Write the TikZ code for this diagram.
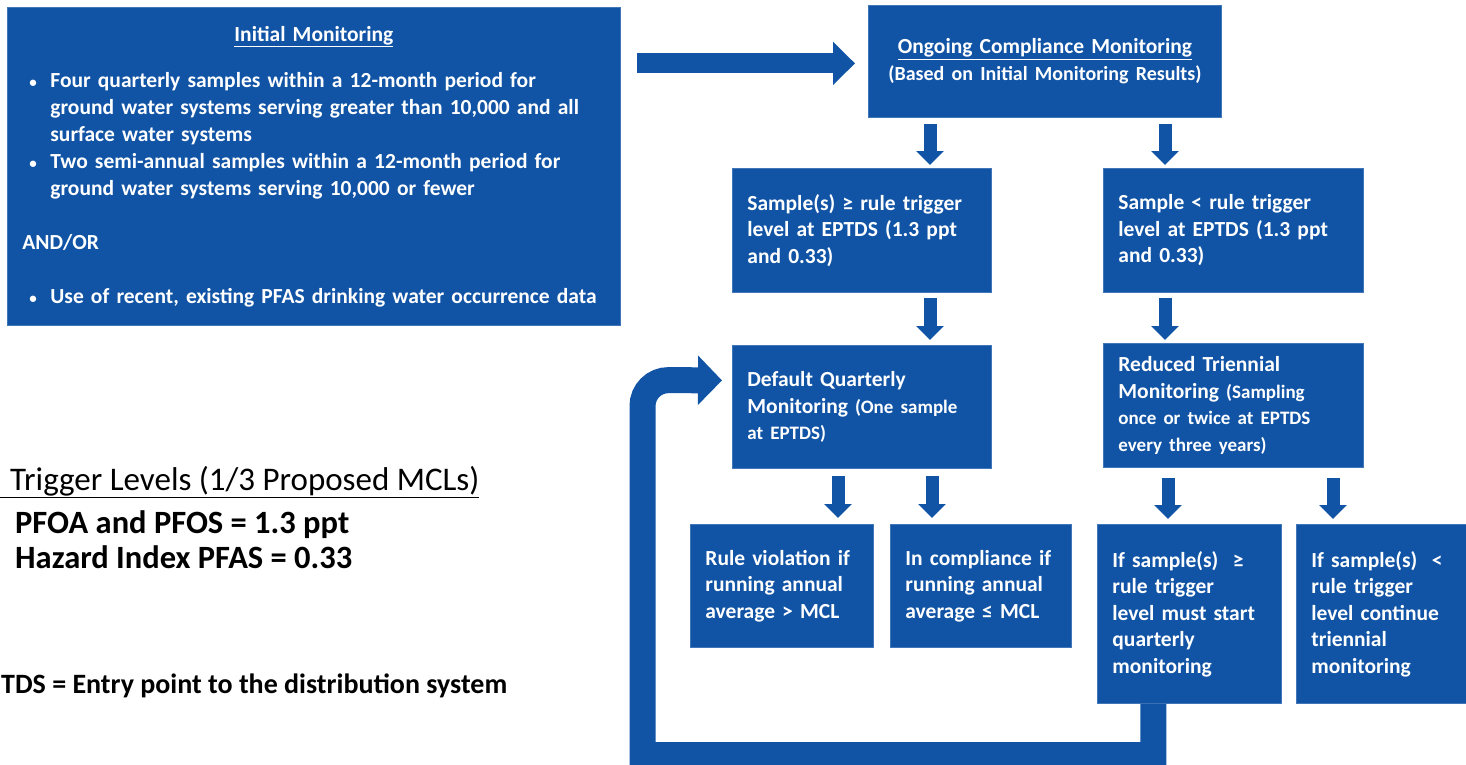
\documentclass[tikz,border=0pt]{standalone}
\usepackage{fontspec}
\setmainfont{Carlito}
\usetikzlibrary{arrows.meta,calc}

\definecolor{pblue}{RGB}{17,84,166}
\newcommand{\ibul}{\makebox[28pt][l]{\hspace{7pt}{\fontsize{15}{15}\selectfont\textbullet}}}
\newcommand{\ind}{\hspace*{28pt}}
\newcommand{\smtxt}{\fontsize{19}{26.5}\selectfont}

\tikzset{
  pbox/.style={fill=pblue, draw=pblue!80!white, line width=0.8pt, text=white,
    font=\fontsize{21.5}{26.5}\selectfont\bfseries, align=left, anchor=north west,
    inner xsep=15pt, inner ysep=0pt},
  note/.style={anchor=base west, inner sep=0pt, text=black},
  downarr/.style={draw=pblue, line width=13pt, -{Triangle[length=14pt,width=27pt]}},
  bigarr/.style={draw=pblue, line width=20pt, -{Triangle[length=22pt,width=42pt]}},
  looparr/.style={draw=pblue, line width=26pt, -{Triangle[length=24pt,width=48pt]}}
}

\begin{document}
\begin{tikzpicture}[x=1pt,y=1pt,yscale=-1,xscale=1]
\useasboundingbox (0,0) rectangle (1466,765);

% boxes
\node[pbox, text width=583pt, minimum height=318pt, font=\fontsize{21.5}{27}\selectfont\bfseries] (init) at (7,7)
  {\makebox[583pt]{\underline{Initial Monitoring}}\\[19pt]
   \ibul Four quarterly samples within a 12-month period for\\
   \ind ground water systems serving greater than 10,000 and all\\
   \ind surface water systems\\
   \ibul Two semi-annual samples within a 12-month period for\\
   \ind ground water systems serving 10,000 or fewer\\[27pt]
   AND/OR\\[27pt]
   \ibul Use of recent, existing PFAS drinking water occurrence data};
\node[pbox, text width=323pt, minimum height=112pt, align=center] (ongoing) at (868,5)
  {\underline{Ongoing Compliance Monitoring}\\
   {\fontsize{20}{26}\selectfont (Based on Initial Monitoring Results)}};
\node[pbox, text width=229pt, minimum height=124pt] (ge) at (732,168)
  {Sample(s) ≥ rule trigger\\ level at EPTDS (1.3 ppt\\ and 0.33)};
\node[pbox, text width=230pt, minimum height=124pt] (lt) at (1103,168)
  {Sample < rule trigger\\ level at EPTDS (1.3 ppt\\ and 0.33)};
\node[pbox, text width=229pt, minimum height=123pt] (default) at (732,345)
  {Default Quarterly\\ Monitoring {\smtxt (One sample}\\
   {\smtxt at EPTDS)}};
\node[pbox, text width=230pt, minimum height=124pt] (reduced) at (1103,343)
  {Reduced Triennial\\ Monitoring {\smtxt (Sampling}\\
   {\smtxt once or twice at EPTDS}\\
   {\smtxt every three years)}};
\node[pbox, text width=153pt, minimum height=123pt] (viol) at (690,524)
  {Rule violation if\\ running annual\\ average > MCL};
\node[pbox, text width=151pt, minimum height=123pt] (comp) at (890,524)
  {In compliance if\\ running annual\\ average ≤ MCL};
\node[pbox, text width=154pt, minimum height=179pt] (ifge) at (1097,524)
  {If sample(s)~ ≥\\ rule trigger\\ level must start\\ quarterly\\ monitoring};
\node[pbox, text width=140pt, minimum height=179pt] (iflt) at (1296,524)
  {If sample(s)~ <\\ rule trigger\\ level continue\\ triennial\\ monitoring};

% notes on the left
\node[note, font=\fontsize{33}{35}\selectfont] (trig) at (0,490)
  {\underline{\kern10pt Trigger Levels (1/3 Proposed MCLs)}};
\node[note, font=\fontsize{32.5}{35}\selectfont\bfseries] (pfos) at (15,533) {PFOA and PFOS = 1.3 ppt};
\node[note, font=\fontsize{32.5}{35}\selectfont\bfseries] (hazard) at (15,568) {Hazard Index PFAS = 0.33};
\node[note, font=\fontsize{28}{30}\selectfont\bfseries] (eptds) at (1,693) {TDS = Entry point to the distribution system};

% arrow columns
\coordinate (ca) at (930,0);
\coordinate (cb) at (1165,0);
\coordinate (cc) at (838,0);
\coordinate (cd) at (932,0);
\coordinate (ce) at (1168,0);
\coordinate (cf) at (1333,0);
\coordinate (lp) at (642.5,755);

\draw[bigarr] ($(init.east |- ongoing.west)+(16,2)$) -- ($(ongoing.west)+(-13,2)$);
\draw[downarr] ($(ca |- ongoing.south)+(0,6)$) -- ($(ca |- ge.north)+(0,-3)$);
\draw[downarr] ($(cb |- ongoing.south)+(0,6)$) -- ($(cb |- lt.north)+(0,-3)$);
\draw[downarr] ($(ca |- ge.south)+(0,5)$) -- ($(ca |- default.north)+(0,-5)$);
\draw[downarr] ($(cb |- lt.south)+(0,5)$) -- ($(cb |- reduced.north)+(0,-3)$);
\draw[downarr] ($(cc |- default.south)+(0,7)$) -- ($(cc |- viol.north)+(0,-6)$);
\draw[downarr] ($(cd |- default.south)+(0,7)$) -- ($(cd |- comp.north)+(0,-6)$);
\draw[downarr] ($(ce |- reduced.south)+(0,10)$) -- ($(ce |- ifge.north)+(0,-5)$);
\draw[downarr] ($(cf |- reduced.south)+(0,10)$) -- ($(cf |- iflt.north)+(0,-5)$);

% back to quarterly monitoring
\draw[looparr] ($(ifge.south)+(-36,0)$) |- (lp) [rounded corners=26pt] -- (642.5,380)
  -- ($(default.west)+(-10,-26.5)$);

\end{tikzpicture}
\end{document}
